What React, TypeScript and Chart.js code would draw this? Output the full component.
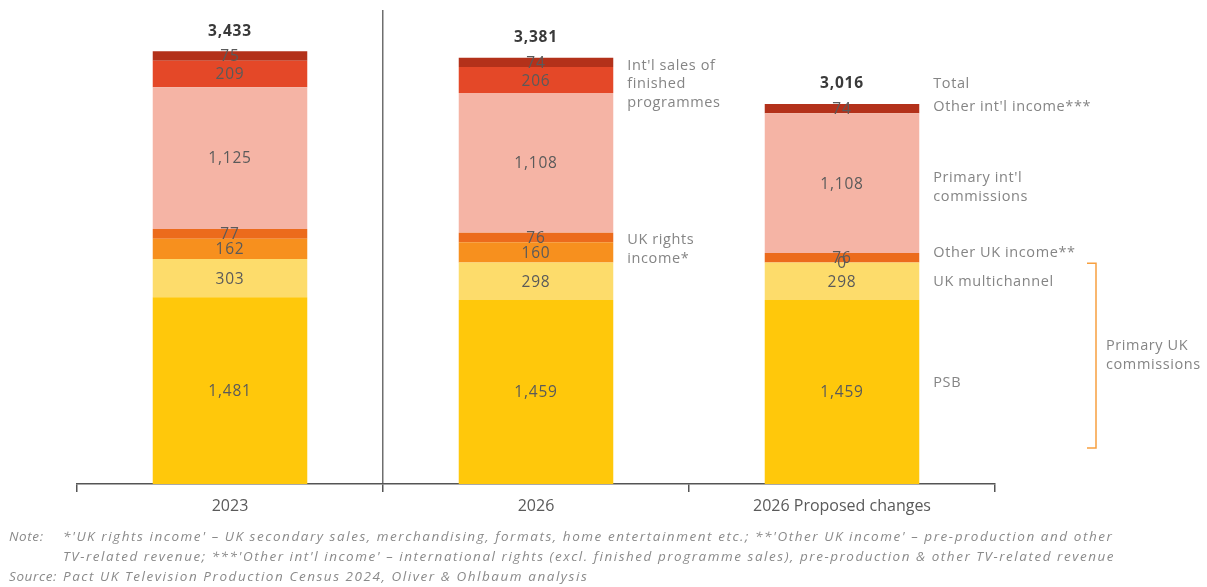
import React, { useEffect, useRef } from "react";
import { Chart, registerables } from "chart.js";

Chart.register(...registerables);

// Categories and series (£m)
const categories = ["2023", "2026", "2026 Proposed changes"];
const psb = [1481, 1459, 1459];
const ukMultichannel = [303, 298, 298];
const ukRightsIncome = [162, 160, 0];
const otherUkIncome = [77, 76, 76];
const primaryIntlCommissions = [1125, 1108, 1108];
const intlFinishedSales = [209, 206, null];
const otherIntlIncome = [75, 74, 74];
const totals = [3433, 3381, 3016];

const seriesNames = [
  "PSB",
  "UK multichannel",
  "UK rights income",
  "Other UK income",
  "Primary int'l commissions",
  "Int'l sales of finished programmes",
  "Other int'l income",
];
const seriesValues = [
  psb,
  ukMultichannel,
  ukRightsIncome,
  otherUkIncome,
  primaryIntlCommissions,
  intlFinishedSales,
  otherIntlIncome,
];
const seriesColors = [
  "#FFC80B",
  "#FDDC6B",
  "#F7901E",
  "#EC6B1C",
  "#F5B4A5",
  "#E44828",
  "#B3311A",
];

// Side annotations: bar they sit beside, and the value level they are centred on
const sideNotes = [
  { bar: 1, level: 3172, lines: ["Int'l sales of", "finished", "programmes"] },
  { bar: 1, level: 1863, lines: ["UK rights", "income*"] },
  { bar: 2, level: 3172, lines: ["Total"] },
  { bar: 2, level: 2990, lines: ["Other int'l income***"] },
  { bar: 2, level: 2351, lines: ["Primary int'l", "commissions"] },
  { bar: 2, level: 1832, lines: ["Other UK income**"] },
  { bar: 2, level: 1602, lines: ["UK multichannel"] },
  { bar: 2, level: 801, lines: ["PSB"] },
];
const bracketRange = [285, 1752];
const bracketLines = ["Primary UK", "commissions"];

const footnotes = [
  { head: "Note:", text: "*'UK rights income' – UK secondary sales, merchandising, formats, home entertainment etc.; **'Other UK income' – pre-production and other" },
  { head: "", text: "TV-related revenue; ***'Other int'l income' – international rights (excl. finished programme sales), pre-production & other TV-related revenue" },
  { head: "Source:", text: "Pact UK Television Production Census 2024, Oliver & Ohlbaum analysis" },
];

const FONT = "'Open Sans', 'Noto Sans', sans-serif";

const fmt = (v: number) => v.toLocaleString("en-GB");

const overlayPlugin = {
  id: "overlay",
  afterDatasetsDraw(chart: any) {
    const ctx = chart.ctx;
    const y = chart.scales.y;
    ctx.save();
    ctx.textAlign = "center";
    ctx.textBaseline = "middle";

    // values inside segments
    ctx.font = `15.5px ${FONT}`;
    ctx.letterSpacing = "0.8px";
    ctx.fillStyle = "#5a5a5a";
    chart.data.datasets.forEach((ds: any, di: number) => {
      const meta = chart.getDatasetMeta(di);
      meta.data.forEach((el: any, i: number) => {
        const v = ds.data[i];
        if (v === null || v === undefined) return;
        const cy = (el.y + el.base) / 2;
        ctx.fillText(fmt(v), el.x, cy + 1);
      });
    });

    // totals above bars
    ctx.font = `bold 15.5px ${FONT}`;
    ctx.fillStyle = "#3a3a3a";
    const topMeta = chart.getDatasetMeta(chart.data.datasets.length - 1);
    totals.forEach((t, i) => {
      const el = topMeta.data[i];
      ctx.fillText(fmt(t), el.x, y.getPixelForValue(t) - 20);
    });

    // side notes
    ctx.textAlign = "left";
    ctx.font = `14.5px ${FONT}`;
    ctx.letterSpacing = "0.6px";
    ctx.fillStyle = "#858585";
    const lh = 18.5;
    sideNotes.forEach((n) => {
      const el = topMeta.data[n.bar];
      const x = el.x + el.width / 2 + 14;
      const cy = y.getPixelForValue(n.level);
      const y0 = cy - ((n.lines.length - 1) * lh) / 2;
      n.lines.forEach((l, k) => ctx.fillText(l, x, y0 + k * lh));
    });

    // bracket for primary UK commissions
    const bx = chart.chartArea.right + 101;
    const by0 = y.getPixelForValue(bracketRange[1]);
    const by1 = y.getPixelForValue(bracketRange[0]);
    ctx.strokeStyle = "#F7A040";
    ctx.lineWidth = 1.5;
    ctx.beginPath();
    ctx.moveTo(bx - 9, by0);
    ctx.lineTo(bx, by0);
    ctx.lineTo(bx, by1);
    ctx.lineTo(bx - 9, by1);
    ctx.stroke();
    const bcy = (by0 + by1) / 2;
    bracketLines.forEach((l, k) =>
      ctx.fillText(l, bx + 10, bcy - lh / 2 + k * lh)
    );

    // footnotes
    ctx.font = `italic 13.5px ${FONT}`;
    ctx.fillStyle = "#8a8a8a";
    footnotes.forEach((f, k) => {
      const fy = chart.chartArea.bottom + 53 + k * 20;
      if (f.head) {
        ctx.letterSpacing = "0.6px";
        ctx.fillText(f.head, 9, fy);
      }
      ctx.letterSpacing = "1.55px";
      ctx.fillText(f.text, 63, fy, 1052);
    });
    ctx.restore();
  },
};

export default function App() {
  const ref = useRef<HTMLCanvasElement>(null);

  useEffect(() => {
    if (!ref.current) return;
    const chart = new Chart(ref.current, {
      type: "bar",
      data: {
        labels: categories,
        datasets: seriesValues.map((vals, i) => ({
          label: seriesNames[i],
          data: vals,
          backgroundColor: seriesColors[i],
          borderWidth: 0,
          categoryPercentage: 1,
          barPercentage: 0.505,
        })),
      },
      options: {
        responsive: false,
        animation: false,
        devicePixelRatio: 1,
        layout: { padding: { left: 77, right: 212, top: 10, bottom: 0 } },
        plugins: { legend: { display: false }, tooltip: { enabled: false } },
        scales: {
          x: {
            stacked: true,
            afterFit: (scale: any) => {
              scale.height = 103;
            },
            grid: {
              offset: true,
              drawOnChartArea: true,
              drawTicks: true,
              tickLength: 8,
              lineWidth: 1.5,
              color: (c: any) => (c.index === 1 ? "#6e6e6e" : "rgba(0,0,0,0)"),
              tickColor: "#555",
              tickWidth: 1.5,
            },
            border: { display: true, color: "#555", width: 1.5 },
            ticks: {
              color: "#5a5a5a",
              font: { family: FONT, size: 16 },
              padding: 5,
              maxRotation: 0,
            },
          },
          y: {
            stacked: true,
            display: false,
            min: 0,
            max: 3760,
          },
        },
      },
      plugins: [overlayPlugin],
    });
    return () => chart.destroy();
  }, []);

  return (
    <div style={{ position: "absolute", left: 0, top: 0, width: 1207, height: 587, background: "#fff" }}>
      <canvas ref={ref} width={1207} height={587} />
    </div>
  );
}
